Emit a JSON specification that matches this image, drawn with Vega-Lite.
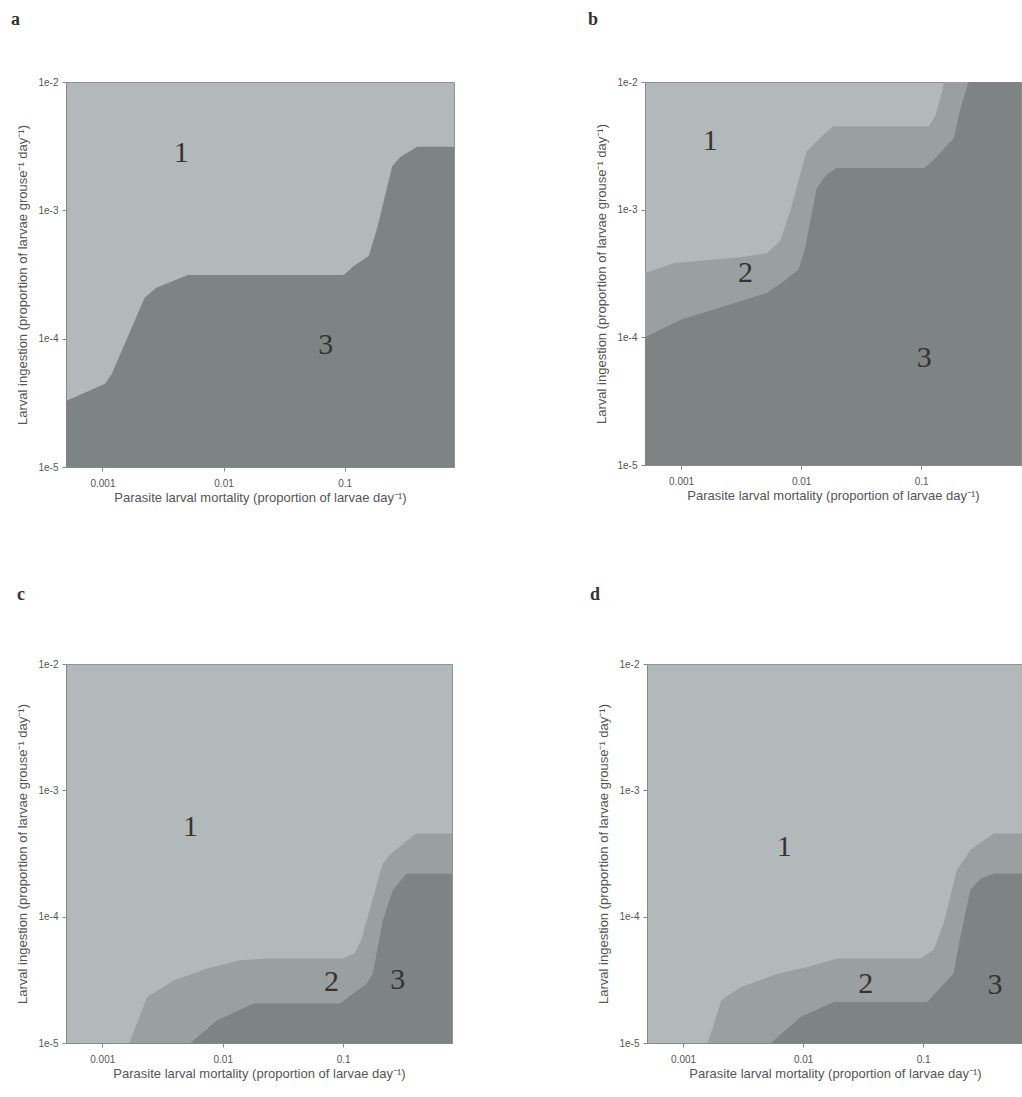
{
  "$schema": "https://vega.github.io/schema/vega-lite/v6.json",
  "background": "white",
  "padding": {"left": 10, "top": 10, "right": 0, "bottom": 0},
  "data": {"values": [
    {"panel":"a","series":"3","x":0.0005,"y":3.27e-5},
    {"panel":"a","series":"3","x":0.00105,"y":4.45e-5},
    {"panel":"a","series":"3","x":0.00119,"y":5.27e-5},
    {"panel":"a","series":"3","x":0.00223,"y":2.08e-4},
    {"panel":"a","series":"3","x":0.00278,"y":2.49e-4},
    {"panel":"a","series":"3","x":0.00507,"y":3.13e-4},
    {"panel":"a","series":"3","x":0.0986,"y":3.13e-4},
    {"panel":"a","series":"3","x":0.119,"y":3.68e-4},
    {"panel":"a","series":"3","x":0.158,"y":4.4e-4},
    {"panel":"a","series":"3","x":0.186,"y":7.3e-4},
    {"panel":"a","series":"3","x":0.247,"y":2.21e-3},
    {"panel":"a","series":"3","x":0.289,"y":2.6e-3},
    {"panel":"a","series":"3","x":0.396,"y":3.13e-3},
    {"panel":"a","series":"3","x":0.8,"y":3.13e-3},

    {"panel":"b","series":"2","x":0.0005,"y":3.19e-4},
    {"panel":"b","series":"2","x":0.00088,"y":3.83e-4},
    {"panel":"b","series":"2","x":0.00313,"y":4.24e-4},
    {"panel":"b","series":"2","x":0.0052,"y":4.58e-4},
    {"panel":"b","series":"2","x":0.0067,"y":5.65e-4},
    {"panel":"b","series":"2","x":0.0081,"y":9.7e-4},
    {"panel":"b","series":"2","x":0.0111,"y":2.86e-3},
    {"panel":"b","series":"2","x":0.01436,"y":3.64e-3},
    {"panel":"b","series":"2","x":0.0185,"y":4.5e-3},
    {"panel":"b","series":"2","x":0.1164,"y":4.5e-3},
    {"panel":"b","series":"2","x":0.132,"y":5.55e-3},
    {"panel":"b","series":"2","x":0.15,"y":8.45e-3},
    {"panel":"b","series":"2","x":0.155,"y":0.01},
    {"panel":"b","series":"2","x":0.8,"y":0.01},
    {"panel":"b","series":"3","x":0.0005,"y":1.0e-4},
    {"panel":"b","series":"3","x":0.001,"y":1.38e-4},
    {"panel":"b","series":"3","x":0.00313,"y":1.92e-4},
    {"panel":"b","series":"3","x":0.0052,"y":2.23e-4},
    {"panel":"b","series":"3","x":0.00714,"y":2.75e-4},
    {"panel":"b","series":"3","x":0.0095,"y":3.39e-4},
    {"panel":"b","series":"3","x":0.0108,"y":5.0e-4},
    {"panel":"b","series":"3","x":0.0135,"y":1.48e-3},
    {"panel":"b","series":"3","x":0.0163,"y":1.88e-3},
    {"panel":"b","series":"3","x":0.0197,"y":2.12e-3},
    {"panel":"b","series":"3","x":0.107,"y":2.12e-3},
    {"panel":"b","series":"3","x":0.132,"y":2.54e-3},
    {"panel":"b","series":"3","x":0.1875,"y":3.64e-3},
    {"panel":"b","series":"3","x":0.213,"y":6.26e-3},
    {"panel":"b","series":"3","x":0.249,"y":0.01},
    {"panel":"b","series":"3","x":0.8,"y":0.01},

    {"panel":"c","series":"2","x":0.0005,"y":1e-5},
    {"panel":"c","series":"2","x":0.00167,"y":1e-5},
    {"panel":"c","series":"2","x":0.00236,"y":2.31e-5},
    {"panel":"c","series":"2","x":0.00392,"y":3.13e-5},
    {"panel":"c","series":"2","x":0.0074,"y":3.88e-5},
    {"panel":"c","series":"2","x":0.01396,"y":4.52e-5},
    {"panel":"c","series":"2","x":0.0232,"y":4.66e-5},
    {"panel":"c","series":"2","x":0.0996,"y":4.66e-5},
    {"panel":"c","series":"2","x":0.124,"y":5.1e-5},
    {"panel":"c","series":"2","x":0.141,"y":6.5e-5},
    {"panel":"c","series":"2","x":0.213,"y":2.64e-4},
    {"panel":"c","series":"2","x":0.25,"y":3.16e-4},
    {"panel":"c","series":"2","x":0.403,"y":4.55e-4},
    {"panel":"c","series":"2","x":0.8,"y":4.55e-4},
    {"panel":"c","series":"3","x":0.0005,"y":1e-5},
    {"panel":"c","series":"3","x":0.00539,"y":1e-5},
    {"panel":"c","series":"3","x":0.00896,"y":1.51e-5},
    {"panel":"c","series":"3","x":0.018,"y":2.05e-5},
    {"panel":"c","series":"3","x":0.0935,"y":2.05e-5},
    {"panel":"c","series":"3","x":0.156,"y":2.95e-5},
    {"panel":"c","series":"3","x":0.176,"y":3.54e-5},
    {"panel":"c","series":"3","x":0.213,"y":9.35e-5},
    {"panel":"c","series":"3","x":0.258,"y":1.62e-4},
    {"panel":"c","series":"3","x":0.333,"y":2.19e-4},
    {"panel":"c","series":"3","x":0.8,"y":2.19e-4},

    {"panel":"d","series":"2","x":0.0005,"y":1e-5},
    {"panel":"d","series":"2","x":0.00161,"y":1e-5},
    {"panel":"d","series":"2","x":0.00208,"y":2.18e-5},
    {"panel":"d","series":"2","x":0.00305,"y":2.77e-5},
    {"panel":"d","series":"2","x":0.00614,"y":3.54e-5},
    {"panel":"d","series":"2","x":0.0109,"y":3.99e-5},
    {"panel":"d","series":"2","x":0.0193,"y":4.66e-5},
    {"panel":"d","series":"2","x":0.095,"y":4.66e-5},
    {"panel":"d","series":"2","x":0.122,"y":5.42e-5},
    {"panel":"d","series":"2","x":0.148,"y":8.8e-5},
    {"panel":"d","series":"2","x":0.191,"y":2.33e-4},
    {"panel":"d","series":"2","x":0.247,"y":3.36e-4},
    {"panel":"d","series":"2","x":0.386,"y":4.55e-4},
    {"panel":"d","series":"2","x":0.8,"y":4.55e-4},
    {"panel":"d","series":"3","x":0.0005,"y":1e-5},
    {"panel":"d","series":"3","x":0.0054,"y":1e-5},
    {"panel":"d","series":"3","x":0.0096,"y":1.61e-5},
    {"panel":"d","series":"3","x":0.0181,"y":2.11e-5},
    {"panel":"d","series":"3","x":0.108,"y":2.11e-5},
    {"panel":"d","series":"3","x":0.179,"y":3.54e-5},
    {"panel":"d","series":"3","x":0.204,"y":6.9e-5},
    {"panel":"d","series":"3","x":0.247,"y":1.62e-4},
    {"panel":"d","series":"3","x":0.299,"y":2.0e-4},
    {"panel":"d","series":"3","x":0.386,"y":2.19e-4},
    {"panel":"d","series":"3","x":0.8,"y":2.19e-4},

    {"panel":"a","label":"1","x":0.00447,"y":2.81e-3},
    {"panel":"a","label":"3","x":0.0698,"y":9.0e-5},
    {"panel":"b","label":"1","x":0.00175,"y":3.43e-3},
    {"panel":"b","label":"2","x":0.00344,"y":3.19e-4},
    {"panel":"b","label":"3","x":0.106,"y":6.9e-5},
    {"panel":"c","label":"1","x":0.00539,"y":5.14e-4},
    {"panel":"c","label":"2","x":0.08,"y":3.04e-5},
    {"panel":"c","label":"3","x":0.284,"y":3.13e-5},
    {"panel":"d","label":"1","x":0.00697,"y":3.56e-4},
    {"panel":"d","label":"2","x":0.0332,"y":2.95e-5},
    {"panel":"d","label":"3","x":0.398,"y":2.86e-5}
  ]},
  "config": {
    "view": {"fill": "#b3b8ba", "stroke": "#8e9394", "strokeWidth": 1},
    "axis": {"labelFont": "Liberation Sans", "labelFontSize": 10, "labelColor": "#555555", "titleFont": "Liberation Sans", "titleFontSize": 13, "titleFontWeight": "normal", "titleColor": "#555555", "tickColor": "#888888", "domainColor": "#888888", "tickSize": 4, "grid": false},
    "axisX": {"labelPadding": 7, "titlePadding": 3},
    "axisY": {"labelPadding": 4, "titlePadding": 8},
    "title": {"font": "Liberation Serif", "fontSize": 18, "fontWeight": "bold", "color": "#333333", "anchor": "start", "frame": "bounds", "offset": 48}
    ,"text": {"font": "Liberation Serif", "fontSize": 30, "color": "#333333"}
  },
  "spacing": 80,
  "vconcat": [
    {"spacing": 132, "hconcat": [
      {"width": 388, "height": 385, "title": {"text": "a", "dx": -6},
       "encoding": {
         "x": {"field": "x", "type": "quantitative", "scale": {"type": "log", "domain": [0.0005, 0.8], "nice": false}, "axis": {"values": [0.001, 0.01, 0.1], "format": "~g"}, "title": "Parasite larval mortality (proportion of larvae day⁻¹)"},
         "y": {"field": "y", "type": "quantitative", "stack": null, "scale": {"type": "log", "domain": [0.00001, 0.01], "nice": false}, "axis": {"values": [0.00001, 0.0001, 0.001, 0.01], "labelExpr": "'1e' + round(log(datum.value)/LN10)"}, "title": "Larval ingestion (proportion of larvae grouse⁻¹ day⁻¹)"}
       },
       "layer": [
         {"transform": [{"filter": "datum.panel == 'a' && datum.series == '3'"}], "mark": {"type": "area", "color": "#7e8483", "clip": true, "opacity": 1}, "encoding": {"y2": {"datum": 0.00001}}},
         {"transform": [{"filter": "datum.panel == 'a' && datum.label"}], "mark": {"type": "text", "align": "center", "baseline": "middle"}, "encoding": {"text": {"field": "label"}}}
       ]},
      {"width": 376, "height": 383, "title": {"text": "b", "dx": -8},
       "encoding": {
         "x": {"field": "x", "type": "quantitative", "scale": {"type": "log", "domain": [0.0005, 0.68], "nice": false}, "axis": {"values": [0.001, 0.01, 0.1], "format": "~g"}, "title": "Parasite larval mortality (proportion of larvae day⁻¹)"},
         "y": {"field": "y", "type": "quantitative", "stack": null, "scale": {"type": "log", "domain": [0.00001, 0.01], "nice": false}, "axis": {"values": [0.00001, 0.0001, 0.001, 0.01], "labelExpr": "'1e' + round(log(datum.value)/LN10)"}, "title": "Larval ingestion (proportion of larvae grouse⁻¹ day⁻¹)"}
       },
       "layer": [
         {"transform": [{"filter": "datum.panel == 'b' && datum.series == '2'"}], "mark": {"type": "area", "color": "#9a9fa0", "clip": true, "opacity": 1}, "encoding": {"y2": {"datum": 0.00001}}},
         {"transform": [{"filter": "datum.panel == 'b' && datum.series == '3'"}], "mark": {"type": "area", "color": "#7e8483", "clip": true, "opacity": 1}, "encoding": {"y2": {"datum": 0.00001}}},
         {"transform": [{"filter": "datum.panel == 'b' && datum.label"}], "mark": {"type": "text", "align": "center", "baseline": "middle"}, "encoding": {"text": {"field": "label"}}}
       ]}
    ]},
    {"spacing": 136, "hconcat": [
      {"width": 386, "height": 379, "title": {"text": "c", "dx": 0, "offset": 55},
       "encoding": {
         "x": {"field": "x", "type": "quantitative", "scale": {"type": "log", "domain": [0.0005, 0.8], "nice": false}, "axis": {"values": [0.001, 0.01, 0.1], "format": "~g"}, "title": "Parasite larval mortality (proportion of larvae day⁻¹)"},
         "y": {"field": "y", "type": "quantitative", "stack": null, "scale": {"type": "log", "domain": [0.00001, 0.01], "nice": false}, "axis": {"values": [0.00001, 0.0001, 0.001, 0.01], "labelExpr": "'1e' + round(log(datum.value)/LN10)"}, "title": "Larval ingestion (proportion of larvae grouse⁻¹ day⁻¹)"}
       },
       "layer": [
         {"transform": [{"filter": "datum.panel == 'c' && datum.series == '2'"}], "mark": {"type": "area", "color": "#9a9fa0", "clip": true, "opacity": 1}, "encoding": {"y2": {"datum": 0.00001}}},
         {"transform": [{"filter": "datum.panel == 'c' && datum.series == '3'"}], "mark": {"type": "area", "color": "#7e8483", "clip": true, "opacity": 1}, "encoding": {"y2": {"datum": 0.00001}}},
         {"transform": [{"filter": "datum.panel == 'c' && datum.label"}], "mark": {"type": "text", "align": "center", "baseline": "middle"}, "encoding": {"text": {"field": "label"}}}
       ]},
      {"width": 376, "height": 379, "title": {"text": "d", "dx": -8, "offset": 55},
       "encoding": {
         "x": {"field": "x", "type": "quantitative", "scale": {"type": "log", "domain": [0.0005, 0.68], "nice": false}, "axis": {"values": [0.001, 0.01, 0.1], "format": "~g"}, "title": "Parasite larval mortality (proportion of larvae day⁻¹)"},
         "y": {"field": "y", "type": "quantitative", "stack": null, "scale": {"type": "log", "domain": [0.00001, 0.01], "nice": false}, "axis": {"values": [0.00001, 0.0001, 0.001, 0.01], "labelExpr": "'1e' + round(log(datum.value)/LN10)"}, "title": "Larval ingestion (proportion of larvae grouse⁻¹ day⁻¹)"}
       },
       "layer": [
         {"transform": [{"filter": "datum.panel == 'd' && datum.series == '2'"}], "mark": {"type": "area", "color": "#9a9fa0", "clip": true, "opacity": 1}, "encoding": {"y2": {"datum": 0.00001}}},
         {"transform": [{"filter": "datum.panel == 'd' && datum.series == '3'"}], "mark": {"type": "area", "color": "#7e8483", "clip": true, "opacity": 1}, "encoding": {"y2": {"datum": 0.00001}}},
         {"transform": [{"filter": "datum.panel == 'd' && datum.label"}], "mark": {"type": "text", "align": "center", "baseline": "middle"}, "encoding": {"text": {"field": "label"}}}
       ]}
    ]}
  ]
}
